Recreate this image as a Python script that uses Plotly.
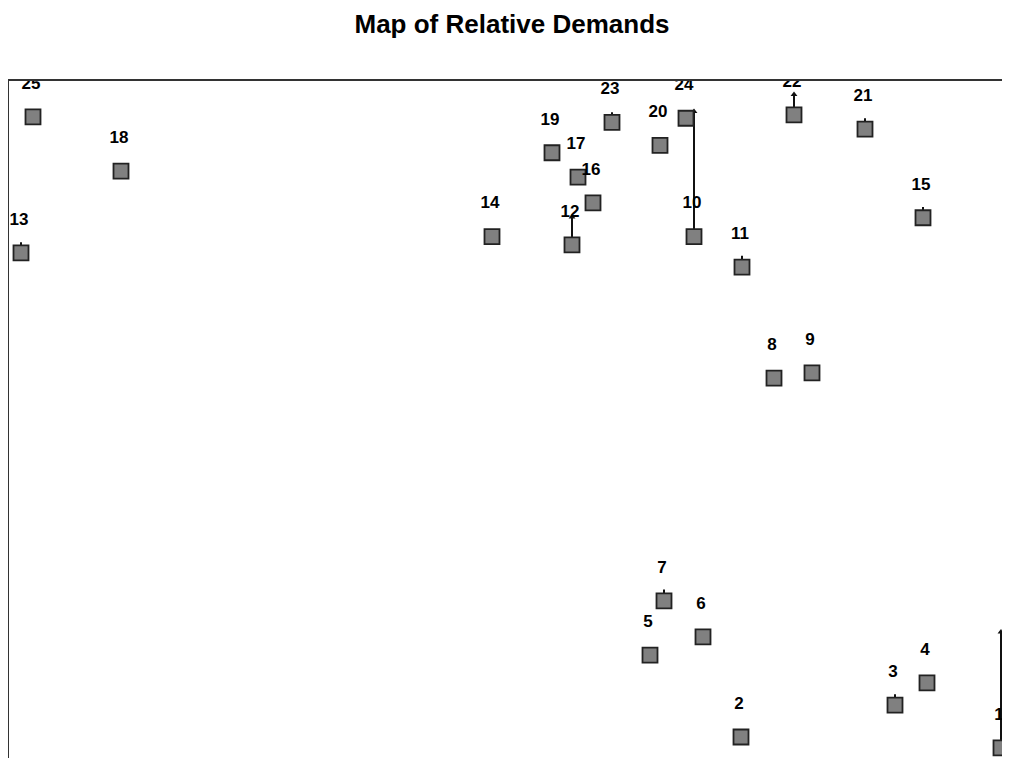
import plotly.graph_objects as go

# Customer locations (map units) and their relative demand
ids = [str(i) for i in range(1, 26)]
x_pos = [99.2, 73.2, 88.6, 91.8, 64.1, 69.4, 65.5, 76.5, 80.3, 68.5,
         73.3, 56.3, 1.2, 48.3, 91.4, 58.4, 56.9, 11.2, 54.3, 65.1,
         85.6, 78.5, 60.3, 67.7, 2.4]
y_pos = [1.5, 3.1, 7.8, 11.1, 15.2, 17.9, 23.2, 56.1, 56.9, 77.0,
         72.5, 75.8, 74.6, 77.0, 79.8, 82.0, 85.8, 86.7, 89.4, 90.5,
         92.9, 95.0, 93.9, 94.5, 94.7]
demand = [17.1, 0.8, 1.6, 0.9, 0.7, 0.8, 1.7, 0.9, 1.1, 18.5,
          1.7, 4.1, 1.6, 0.8, 1.6, 1.0, 0.9, 0.9, 0.8, 1.0,
          1.6, 3.0, 1.5, 1.0, 0.7]

label_gap = 4.8

# demand bars: vertical segment from each point upwards
lx, ly = [], []
for x, y, d in zip(x_pos, y_pos, demand):
    lx += [x, x, None]
    ly += [y, y + d, None]

tips = [(x, y + d) for x, y, d in zip(x_pos, y_pos, demand) if d > 2]

fig = go.Figure()

fig.add_trace(go.Scatter(
    x=lx, y=ly, mode='lines',
    line=dict(color='#111111', width=2),
    hoverinfo='skip'
))

fig.add_trace(go.Scatter(
    x=[t[0] for t in tips], y=[t[1] for t in tips], mode='markers',
    marker=dict(symbol='triangle-up', size=6, color='#111111'),
    hoverinfo='skip'
))

fig.add_trace(go.Scatter(
    x=x_pos, y=y_pos, mode='markers',
    marker=dict(symbol='square', size=15, color='#808080',
                line=dict(color='#222222', width=1.8)),
    text=ids, hoverinfo='text'
))

fig.add_trace(go.Scatter(
    x=[x - 0.2 for x in x_pos], y=[y + label_gap for y in y_pos], mode='text',
    text=['<b>' + s + '</b>' for s in ids], textposition='middle center',
    textfont=dict(family='Liberation Sans, Arial', size=17, color='black'),
    hoverinfo='skip'
))

fig.update_traces(cliponaxis=True)

# page body has an 8px margin, so the figure is sized to fit the window
fig.update_layout(
    title=dict(text='<b>Map of Relative Demands</b>', x=0.503, xanchor='center',
               y=0.979, yanchor='middle',
               font=dict(family='Liberation Sans, Arial', size=26, color='black')),
    width=1002, height=750,
    margin=dict(l=1, r=0, t=73, b=0),
    plot_bgcolor='white', paper_bgcolor='white',
    showlegend=False,
    xaxis=dict(range=[0, 100.1], side='top', showline=True, linecolor='#333333',
               linewidth=2, showgrid=False, zeroline=False,
               showticklabels=False, ticks=''),
    yaxis=dict(range=[0, 100], showline=True, linecolor='#333333',
               linewidth=2, showgrid=False, zeroline=False,
               showticklabels=False, ticks=''),
)

fig.write_html("out.html")
